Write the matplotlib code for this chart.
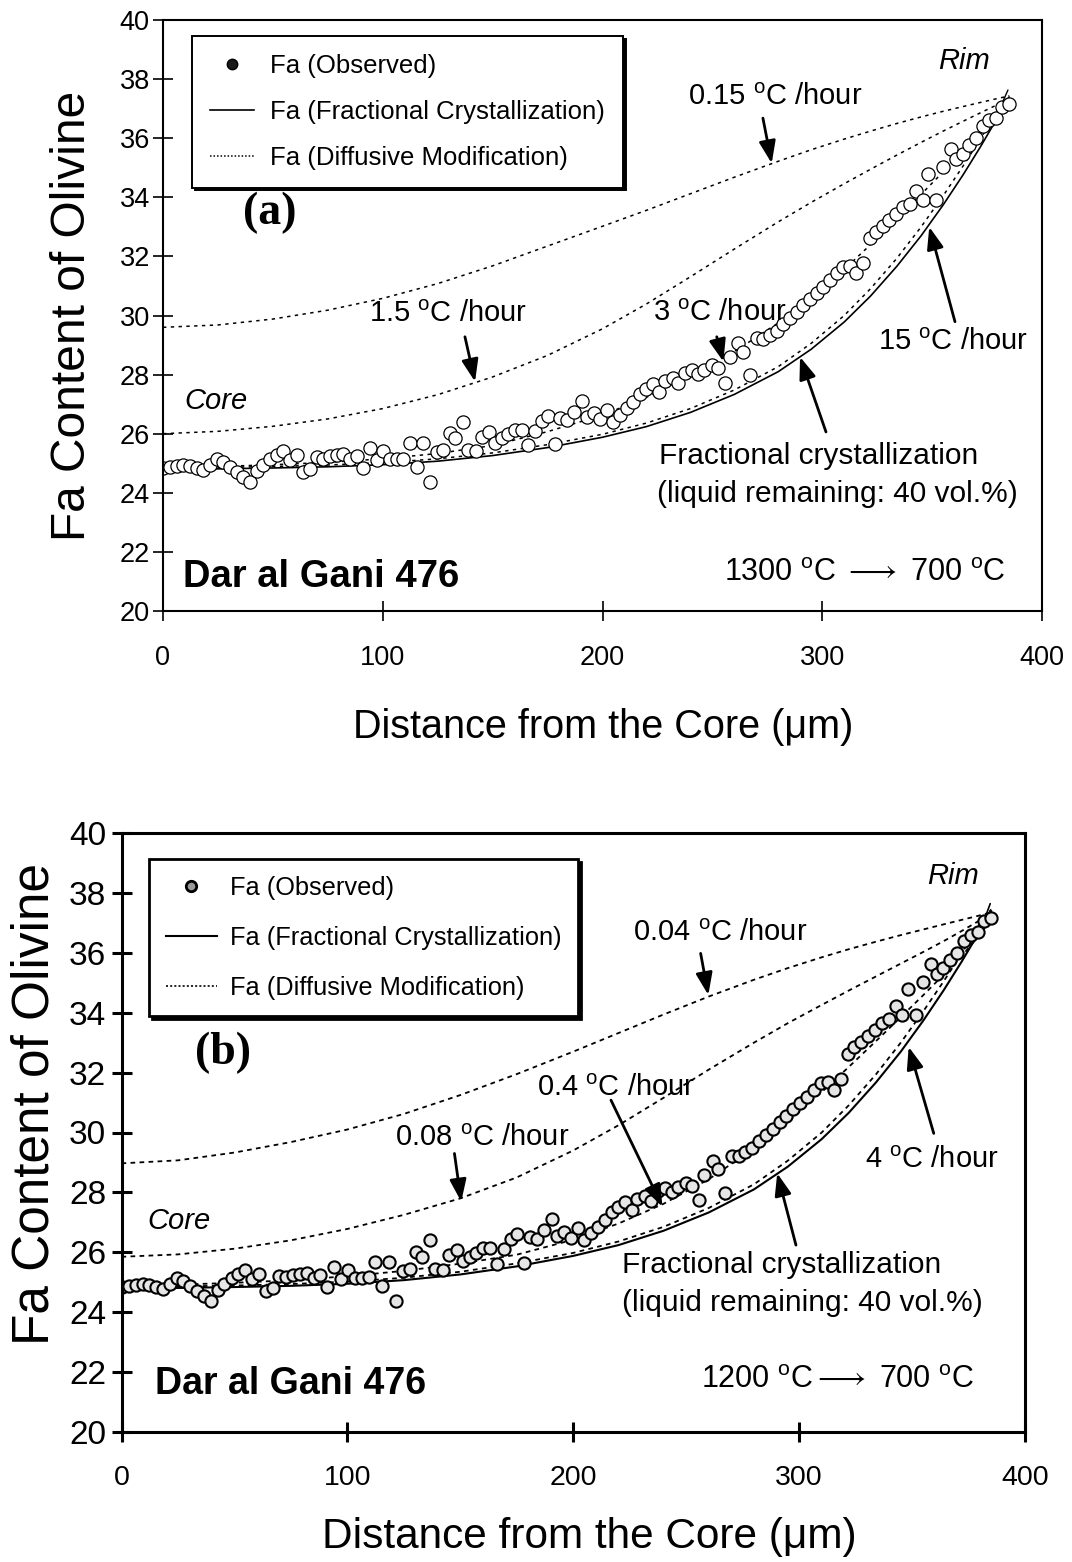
import matplotlib
matplotlib.use("Agg")
import matplotlib.pyplot as plt
from matplotlib.lines import Line2D

plt.rcParams['font.family'] = ['Liberation Sans', 'DejaVu Sans']
plt.rcParams['mathtext.fontset'] = 'custom'
plt.rcParams['mathtext.rm'] = 'Liberation Sans'
plt.rcParams['mathtext.it'] = 'Liberation Sans:italic'
plt.rcParams['mathtext.bf'] = 'Liberation Sans:bold'
plt.rcParams['mathtext.fallback'] = 'stixsans'

# ---------------- data ----------------
x_ticks = [0, 100, 200, 300, 400]
y_ticks = [20, 22, 24, 26, 28, 30, 32, 34, 36, 38, 40]

obs_x = [0.2, 3.2, 6.2, 9.3, 12.3, 15.3, 18.3, 21.4, 24.4, 27.4, 30.5, 33.5, 36.5, 39.6,
         42.6, 45.6, 48.7, 51.7, 54.7, 57.8, 60.8, 63.8, 66.9, 69.9, 72.9, 76.0, 79.0,
         82.0, 85.1, 88.1, 91.2, 94.2, 97.2, 100.3, 103.3, 106.3, 109.4, 112.4, 115.4,
         118.5, 121.5, 124.5, 127.6, 130.6, 132.9, 136.7, 138.9, 142.4, 145.0, 148.5,
         151.1, 154.1, 157.1, 160.2, 163.2, 166.2, 169.3, 172.3, 175.3, 178.4, 180.7,
         184.0, 187.0, 190.5, 192.8, 196.1, 198.9, 201.9, 204.9, 208.0, 211.0, 214.0,
         217.1, 219.8, 222.8, 225.8, 228.4, 231.9, 234.5, 237.5, 240.6, 243.6, 246.2,
         249.7, 252.7, 255.7, 258.0, 261.8, 264.1, 267.1, 270.2, 273.2, 276.2, 279.3,
         282.3, 285.3, 288.3, 291.4, 294.4, 297.5, 300.5, 303.5, 306.6, 309.6, 312.6,
         315.4, 318.7, 321.7, 324.5, 327.5, 330.5, 333.6, 336.6, 339.9, 342.7, 345.7,
         348.3, 351.8, 354.8, 358.4, 360.9, 363.9, 366.9, 370.0, 373.0, 376.0, 379.1,
         381.7, 385.1]
obs_y = [24.83, 24.86, 24.91, 24.94, 24.91, 24.83, 24.77, 24.94, 25.13, 25.05, 24.86, 24.72,
         24.55, 24.38, 24.75, 24.94, 25.13, 25.28, 25.41, 25.10, 25.28, 24.72, 24.80, 25.22,
         25.16, 25.24, 25.28, 25.30, 25.13, 25.24, 24.83, 25.50, 25.10, 25.42, 25.13, 25.13,
         25.16, 25.67, 24.86, 25.67, 24.38, 25.39, 25.45, 26.01, 25.84, 26.41, 25.45, 25.42,
         25.90, 26.07, 25.70, 25.84, 25.99, 26.13, 26.13, 25.62, 26.10, 26.44, 26.60, 25.65,
         26.52, 26.46, 26.75, 27.12, 26.55, 26.69, 26.49, 26.80, 26.41, 26.63, 26.86, 27.08,
         27.34, 27.50, 27.68, 27.42, 27.79, 27.87, 27.72, 28.04, 28.15, 28.01, 28.17, 28.32,
         28.21, 27.73, 28.58, 29.06, 28.78, 27.99, 29.23, 29.22, 29.34, 29.49, 29.71, 29.90,
         30.13, 30.36, 30.55, 30.77, 30.98, 31.20, 31.43, 31.65, 31.68, 31.43, 31.77, 32.61,
         32.84, 33.03, 33.23, 33.43, 33.66, 33.78, 34.22, 33.91, 34.79, 33.91, 35.04, 35.62,
         35.30, 35.48, 35.77, 36.00, 36.41, 36.61, 36.69, 37.05, 37.16]

model_x = [0, 25, 50, 75, 100, 125, 150, 175, 200, 220, 240, 260, 280, 295, 310, 322,
           334, 345, 355, 364, 372, 379, 385]
frac_cryst = [24.80, 24.81, 24.84, 24.88, 24.95, 25.07, 25.26, 25.53, 25.88, 26.24, 26.72,
              27.33, 28.10, 28.86, 29.78, 30.66, 31.67, 32.70, 33.74, 34.75, 35.71, 36.60,
              37.39]
# panel (a): 1300 -> 700 C
diff_a_015 = [29.60, 29.68, 29.88, 30.18, 30.58, 31.08, 31.68, 32.35, 33.02, 33.56, 34.12,
              34.68, 35.22, 35.61, 35.97, 36.24, 36.50, 36.72, 36.91, 37.07, 37.21, 37.33,
              37.43]
diff_a_15 = [26.00, 26.08, 26.25, 26.50, 26.85, 27.32, 27.92, 28.65, 29.55, 30.39, 31.31,
             32.25, 33.17, 33.83, 34.46, 34.95, 35.43, 35.86, 36.24, 36.57, 36.86, 37.11,
             37.31]
diff_a_3 = [24.86, 24.89, 24.95, 25.03, 25.15, 25.33, 25.60, 26.07, 26.63, 27.23, 27.95,
            28.78, 29.75, 30.60, 31.56, 32.40, 33.28, 34.10, 34.86, 35.55, 36.17, 36.73,
            37.25]
diff_a_15h = [24.85, 24.86, 24.89, 24.94, 25.02, 25.15, 25.35, 25.63, 25.98, 26.36, 26.85,
              27.48, 28.27, 29.06, 30.00, 30.91, 31.94, 33.00, 34.05, 35.05, 35.98, 36.85,
              37.45]
# panel (b): 1200 -> 700 C
diff_b_004 = [28.97, 29.07, 29.33, 29.68, 30.10, 30.62, 31.25, 31.95, 32.70, 33.32, 33.94,
              34.54, 35.10, 35.49, 35.85, 36.12, 36.37, 36.59, 36.78, 36.95, 37.10, 37.23,
              37.35]
diff_b_008 = [25.85, 25.93, 26.12, 26.40, 26.78, 27.25, 27.80, 28.50, 29.40, 30.24, 31.16,
              32.10, 33.00, 33.65, 34.26, 34.74, 35.21, 35.64, 36.03, 36.39, 36.73, 37.04,
              37.34]
diff_b_04 = [24.88, 24.92, 24.98, 25.07, 25.20, 25.38, 25.62, 25.92, 26.42, 26.96, 27.62,
             28.44, 29.46, 30.36, 31.35, 32.19, 33.05, 33.85, 34.59, 35.27, 35.89, 36.52,
             37.12]
diff_b_4 = diff_a_15h

legend_labels = ['Fa (Observed)', 'Fa (Fractional Crystallization)',
                 'Fa (Diffusive Modification)']

DEG = r'$^{\mathrm{o}}$'
LONG_ARROW = r'$\longrightarrow$'

# ---------------- figure ----------------
fig = plt.figure(figsize=(10.72, 15.62), dpi=100)
ax_a = fig.add_axes([163 / 1072, 1 - 611 / 1562, 879 / 1072, 591 / 1562])
ax_b = fig.add_axes([121.5 / 1072, 1 - 1432 / 1562, 903.5 / 1072, 599 / 1562])


def style(ax, spine_lw, tick_lw, xfs, yfs, xpad, ypad):
    ax.set_xlim(0, 400)
    ax.set_ylim(20, 40)
    ax.set_xticks(x_ticks)
    ax.set_yticks(y_ticks)
    for s in ax.spines.values():
        s.set_linewidth(spine_lw)
    ax.tick_params(axis='both', direction='inout', length=15, width=tick_lw, color='k')
    ax.tick_params(axis='x', labelsize=xfs, pad=xpad)
    ax.tick_params(axis='y', labelsize=yfs, pad=ypad)


def arrow(ax, tail, tip, lw):
    ax.annotate('', xy=tip, xytext=tail,
                arrowprops=dict(arrowstyle='-|>,head_length=0.75,head_width=0.28',
                                color='k', lw=lw, shrinkA=0, shrinkB=0,
                                mutation_scale=18))


def tick_line(ax, p0, p1, lw):
    ax.annotate('', xy=p1, xytext=p0,
                arrowprops=dict(arrowstyle='-', color='k', lw=lw, shrinkA=0, shrinkB=0))


# ---------------- panel (a) ----------------
ax = ax_a
dot_a = (0, (2.2, 2.9))
for ys in (diff_a_015, diff_a_15, diff_a_3, diff_a_15h):
    ax.plot(model_x, ys, color='k', lw=1.1, ls=dot_a)
ax.plot(model_x, frac_cryst, color='k', lw=1.2)
ax.plot(obs_x, obs_y, ls='none', marker='o', ms=9.5, mfc='white', mec='k', mew=0.9)
style(ax, 1.5, 1.2, 19.5, 19.5, 17, 2)
ax.set_xlabel('Distance from the Core (\u03bcm)', fontsize=28.5)
ax.set_ylabel('Fa Content of Olivine', fontsize=34.5)
ax.xaxis.set_label_coords(0.5006, -0.196)
ax.xaxis.label.set_va('center')
ax.yaxis.set_label_coords(-0.1035, 0.5)
ax.yaxis.label.set_va('center')

h_obs = Line2D([], [], ls='none', marker='o', ms=7.5, mfc='#1a1a1a', mec='k')
h_frac = Line2D([], [], color='k', lw=1.2)
h_diff = Line2D([], [], color='k', lw=1.1, ls=(0, (1, 1.3)))
leg = ax.legend([h_obs, h_frac, h_diff], legend_labels, loc='upper left',
                bbox_to_anchor=(0.033, 0.973), fontsize=18.5, frameon=True, fancybox=False,
                shadow={'color': 'k', 'alpha': 1}, borderpad=0.7, labelspacing=0.85,
                handlelength=1.72, handletextpad=0.62, borderaxespad=0, framealpha=1)
leg.get_frame().set_edgecolor('k')
leg.get_frame().set_linewidth(1.4)

fs = 21
ax.text(278.5, 37.39, '0.15 ' + DEG + 'C /hour', fontsize=fs, ha='center', va='center')
arrow(ax, (273, 36.68), (277, 35.15), 2.0)
ax.text(129.7, 30.05, '1.5 ' + DEG + 'C /hour', fontsize=fs, ha='center', va='center')
arrow(ax, (137.4, 29.28), (142, 27.76), 2.0)
ax.text(253.5, 30.1, '3 ' + DEG + 'C /hour', fontsize=fs, ha='center', va='center')
arrow(ax, (252, 29.28), (255, 28.44), 2.0)
ax.text(359.5, 29.1, '15 ' + DEG + 'C /hour', fontsize=fs, ha='center', va='center')
arrow(ax, (360.4, 29.79), (348.7, 33.0), 2.0)
ax.text(225.7, 25.25, 'Fractional crystallization', fontsize=21.5, ha='left', va='center')
ax.text(225.0, 23.96, '(liquid remaining: 40 vol.%)', fontsize=21.5, ha='left', va='center')
arrow(ax, (301.7, 26.06), (289.9, 28.6), 2.0)
ax.text(364.5, 38.61, 'Rim', fontsize=21, style='italic', ha='center', va='center')
tick_line(ax, (384.5, 37.63), (382.2, 37.24), 1.0)
ax.text(23.9, 27.1, 'Core', fontsize=21, style='italic', ha='center', va='center')
ax.text(9.1, 21.15, 'Dar al Gani 476', fontsize=27.5, fontweight='bold', ha='left',
        va='center')
ax.text(319.5, 21.3, '1300 ' + DEG + 'C ' + LONG_ARROW + ' 700 ' + DEG + 'C', fontsize=22,
        ha='center', va='center')
ax.text(48.7, 33.47, '(a)', fontsize=33, fontweight='bold', family='Liberation Serif',
        ha='center', va='center')

# ---------------- panel (b) ----------------
ax = ax_b
dot_b = (0, (2.6, 2.4))
for ys in (diff_b_004, diff_b_008, diff_b_04, diff_b_4):
    ax.plot(model_x, ys, color='k', lw=1.3, ls=dot_b)
ax.plot(model_x, frac_cryst, color='k', lw=1.5)
ax.plot(obs_x, obs_y, ls='none', marker='o', ms=8.8, mfc='#e6e6e6', mec='k', mew=1.5)
style(ax, 2.2, 2.2, 20.5, 24, 16, 3.5)
ax.set_xlabel('Distance from the Core (\u03bcm)', fontsize=30.5)
ax.set_ylabel('Fa Content of Olivine', fontsize=37)
ax.xaxis.set_label_coords(0.5174, -0.175)
ax.xaxis.label.set_va('center')
ax.yaxis.set_label_coords(-0.0957, 0.547)
ax.yaxis.label.set_va('center')

h_obs_b = Line2D([], [], ls='none', marker='o', ms=7.5, mfc='#9a9a9a', mec='k', mew=2)
h_frac_b = Line2D([], [], color='k', lw=1.5)
h_diff_b = Line2D([], [], color='k', lw=1.2, ls=(0, (1.2, 1.3)))
leg = ax.legend([h_obs_b, h_frac_b, h_diff_b], legend_labels, loc='upper left',
                bbox_to_anchor=(0.0308, 0.956), fontsize=18.3, frameon=True, fancybox=False,
                shadow={'color': 'k', 'alpha': 1}, borderpad=0.65, labelspacing=1.02,
                handlelength=2.0, handletextpad=0.52, borderaxespad=0, framealpha=1)
leg.get_frame().set_edgecolor('k')
leg.get_frame().set_linewidth(2.0)

ax.text(265, 36.66, '0.04 ' + DEG + 'C /hour', fontsize=fs, ha='center', va='center')
arrow(ax, (256.4, 35.98), (259.8, 34.59), 2.0)
ax.text(159.6, 29.82, '0.08 ' + DEG + 'C /hour', fontsize=fs, ha='center', va='center')
arrow(ax, (147.4, 29.3), (150.4, 27.69), 2.0)
ax.text(218.9, 31.5, '0.4 ' + DEG + 'C /hour', fontsize=fs, ha='center', va='center')
arrow(ax, (216.7, 31.08), (239.5, 27.52), 2.0)
ax.text(358.7, 29.08, '4 ' + DEG + 'C /hour', fontsize=fs, ha='center', va='center')
arrow(ax, (359.6, 29.97), (348.5, 32.86), 2.0)
ax.text(221.7, 25.58, 'Fractional crystallization', fontsize=21.5, ha='left', va='center')
ax.text(221.7, 24.31, '(liquid remaining: 40 vol.%)', fontsize=21.5, ha='left', va='center')
arrow(ax, (298.6, 26.24), (290.3, 28.64), 2.0)
ax.text(368, 38.56, 'Rim', fontsize=21, style='italic', ha='center', va='center')
tick_line(ax, (384.6, 37.64), (382.4, 37.19), 1.2)
ax.text(25.4, 27.05, 'Core', fontsize=21, style='italic', ha='center', va='center')
ax.text(14.8, 21.6, 'Dar al Gani 476', fontsize=27, fontweight='bold', ha='left', va='center')
ax.text(317, 21.74, '1200 ' + DEG + 'C' + LONG_ARROW + ' 700 ' + DEG + 'C', fontsize=22,
        ha='center', va='center')
ax.text(44.9, 32.65, '(b)', fontsize=33, fontweight='bold', family='Liberation Serif',
        ha='center', va='center')

fig.savefig('out.png', dpi=100)
